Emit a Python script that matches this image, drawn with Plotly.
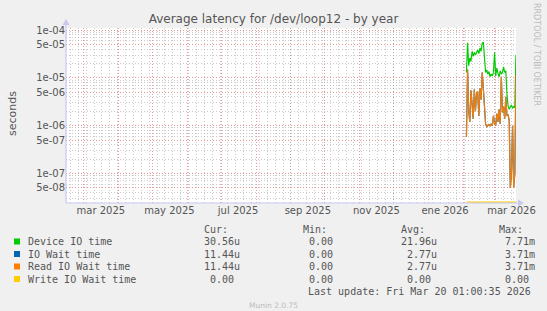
import numpy as np
import pandas as pd
import plotly.graph_objects as go

# ---------------- data ----------------
dates = pd.date_range("2026-02-04", periods=45, freq="D")

device_io_time = [
    1.3e-5, 5.4e-5, 1.8e-5, 2.6e-5, 2.2e-5, 3.6e-5, 2.8e-5, 3.4e-5, 3.0e-5, 3.3e-5,
    3.8e-5, 3.2e-5, 4.2e-5, 3.6e-5, 5.3e-5, 5.6e-5, 3.0e-5, 1.3e-5, 1.45e-5, 1.2e-5,
    1.35e-5, 1.05e-5, 1.2e-5, 1.1e-5, 1.3e-5, 3.4e-5, 1.1e-5, 1.6e-5, 1.25e-5, 1.05e-5,
    1.4e-5, 1.2e-5, 1.3e-5, 1.7e-5, 1.3e-5, 1.4e-5, 4.5e-6, 2.6e-6, 2.2e-6, 2.4e-6,
    2.7e-6, 2.3e-6, 2.5e-6, 2.4e-6, 3.056e-5,
]
io_wait_time = [
    5.8e-7, 1.5e-5, 2.0e-6, 1.2e-6, 5.5e-6, 3.0e-6, 1.4e-6, 5.8e-6, 2.0e-6, 4.8e-6,
    5.2e-6, 1.6e-6, 6.0e-6, 3.5e-6, 1.3e-5, 6.0e-6, 2.2e-6, 1.1e-6, 9.5e-7, 1.0e-6,
    1.05e-6, 1.0e-6, 1.1e-6, 1.0e-6, 1.6e-6, 1.1e-6, 1.0e-6, 1.8e-6, 1.2e-6, 2.2e-6,
    1.1e-6, 1.05e-5, 1.9e-6, 2.5e-6, 1.4e-6, 4.0e-6, 1.6e-6, 1.7e-6, 1.3e-6, 5.0e-8,
    1.0e-7, 1.0e-6, 5.0e-8, 1.0e-7, 1.144e-5,
]
read_io_wait_time = [
    5.8e-7, 1.5e-5, 2.0e-6, 1.2e-6, 5.5e-6, 3.0e-6, 1.4e-6, 5.8e-6, 2.0e-6, 4.8e-6,
    5.2e-6, 1.6e-6, 6.0e-6, 3.5e-6, 1.3e-5, 6.0e-6, 2.2e-6, 1.1e-6, 9.5e-7, 1.0e-6,
    1.05e-6, 1.0e-6, 1.1e-6, 1.0e-6, 1.6e-6, 1.1e-6, 1.0e-6, 1.8e-6, 1.2e-6, 2.2e-6,
    1.1e-6, 1.05e-5, 1.9e-6, 2.5e-6, 1.4e-6, 4.0e-6, 1.6e-6, 1.7e-6, 1.3e-6, 5.0e-8,
    1.0e-7, 1.0e-6, 5.0e-8, 1.0e-7, 1.144e-5,
]
write_io_wait_time = [0.0] * 45

y_tickvals = [1e-4, 5e-5, 1e-5, 5e-6, 1e-6, 5e-7, 1e-7, 5e-8]
y_ticktext = ["1e-04", "5e-05", "1e-05", "5e-06", "1e-06", "5e-07", "1e-07", "5e-08"]

x_label_dates = ["2025-03-16", "2025-05-16", "2025-07-16", "2025-09-16",
                 "2025-11-16", "2026-01-16", "2026-03-16"]
x_labels = ["mar 2025", "may 2025", "jul 2025", "sep 2025",
            "nov 2025", "ene 2026", "mar 2026"]

series_names = ["Device IO time", "IO Wait time", "Read IO Wait time", "Write IO Wait time"]
series_colors = ["#00CC00", "#0066B3", "#FF8000", "#FFCC00"]
cur_vals = ["30.56u", "11.44u", "11.44u", " 0.00"]
min_vals = [" 0.00", " 0.00", " 0.00", " 0.00"]
avg_vals = ["21.96u", " 2.77u", " 2.77u", " 0.00"]
max_vals = [" 7.71m", " 3.71m", " 3.71m", " 0.00"]

# ---------------- layout geometry ----------------
W, H = 547, 311
PL, PR, PT, PB = 66, 516, 28, 203
x_range = ["2025-02-13 01:00", "2026-03-20 01:00"]
y_lo, y_hi = -7.616, -3.958


def px(x):
    return (x - PL) / (PR - PL)


def py(y):
    return (PB - y) / (PB - PT)


floor_val = 10 ** (y_lo + 0.018)

fig = go.Figure()
series = [device_io_time, io_wait_time, read_io_wait_time, write_io_wait_time]
for name, vals, col in zip(series_names, series, series_colors):
    v = np.array(vals, dtype=float)
    v = np.where(v > 0, v, floor_val)
    fig.add_trace(go.Scatter(
        x=dates, y=v, mode="lines", name=name,
        line=dict(color=col, width=1.2),
        opacity=0.93 if name == "Read IO Wait time" else 1.0,
        showlegend=False, hoverinfo="skip",
    ))

fig.add_trace(go.Scatter(x=[dates[0]], y=[None], xaxis="x2", yaxis="y",
                         showlegend=False, hoverinfo="skip"))

month_starts = pd.date_range("2025-03-01", "2026-03-01", freq="MS")
minor_y = [m * 10.0 ** k for k in range(-8, -4) for m in (2, 3, 4, 6, 7, 8, 9)]

major_grid = "rgba(225,80,80,0.6)"
minor_grid = "rgba(160,160,160,0.55)"
dot = "1px,2px"
tick_font = dict(family="DejaVu Sans", size=10, color="#555555")

fig.update_layout(
    width=W, height=H,
    margin=dict(l=PL, r=W - PR, t=PT, b=H - PB, pad=0),
    paper_bgcolor="#F0F0F0", plot_bgcolor="#FFFFFF",
    title=dict(text="Average latency for /dev/loop12 - by year",
               x=0.5, xref="container", xanchor="center",
               y=1 - 19 / H, yref="container", yanchor="middle",
               font=dict(family="DejaVu Sans", size=12, color="#555555")),
    xaxis=dict(type="date", range=x_range, tickmode="array",
               tickvals=x_label_dates, ticktext=x_labels, ticks="",
               showgrid=False, zeroline=False, showline=False,
               tickfont=tick_font,
               minor=dict(tickmode="array", tickvals=list(month_starts),
                          showgrid=True, gridcolor=major_grid, griddash=dot,
                          gridwidth=1, ticks="")),
    xaxis2=dict(type="date", range=x_range, overlaying="x", side="bottom",
                anchor="y", showticklabels=False, ticks="", zeroline=False,
                showline=False, showgrid=True, gridcolor=minor_grid,
                griddash=dot, gridwidth=1, tick0="2025-02-17",
                dtick=7 * 86400000),
    yaxis=dict(type="log", range=[y_lo, y_hi], tickmode="array",
               tickvals=y_tickvals, ticktext=y_ticktext, ticks="",
               showgrid=True, gridcolor=major_grid, griddash=dot,
               zeroline=False, showline=False, tickfont=tick_font,
               minor=dict(tickmode="array", tickvals=minor_y, showgrid=True,
                          gridcolor=minor_grid, griddash=dot, ticks="")),
    showlegend=False,
)

# axis lines with arrows
axis_col = "#C8C8F0"
shapes = [
    dict(type="line", xref="paper", yref="paper", x0=0, x1=px(519), y0=0, y1=0,
         line=dict(color=axis_col, width=1.2)),
    dict(type="line", xref="paper", yref="paper", x0=0, x1=0, y0=0, y1=py(23),
         line=dict(color=axis_col, width=1.2)),
    dict(type="path", xref="paper", yref="paper",
         path=f"M {px(518)} {py(199.5)} L {px(524)} {py(203)} L {px(518)} {py(206.5)} Z",
         fillcolor=axis_col, line=dict(width=0)),
    dict(type="path", xref="paper", yref="paper",
         path=f"M {px(62.5)} {py(25)} L {px(66)} {py(19)} L {px(69.5)} {py(25)} Z",
         fillcolor=axis_col, line=dict(width=0)),
]

rows_y = [241.5, 254, 266.5, 279]
mono = dict(family="DejaVu Sans Mono", size=10, color="#555555")
ann = []


def nb(s):
    return s.replace(" ", "\u00a0")


for i, (name, col) in enumerate(zip(series_names, series_colors)):
    yy = rows_y[i]
    shapes.append(dict(type="rect", xref="paper", yref="paper",
                       x0=px(14), x1=px(20), y0=py(yy + 3), y1=py(yy - 3),
                       fillcolor=col, line=dict(width=0)))
    ann.append(dict(x=px(26), y=py(yy), text=nb(name), xanchor="left"))
    for colx, vals in zip((202, 301, 399, 497), (cur_vals, min_vals, avg_vals, max_vals)):
        ann.append(dict(x=px(colx), y=py(yy), text=nb(vals[i]), xanchor="left"))

for colx, hdr in zip((202, 301, 399, 497), ("Cur:", "Min:", "Avg:", "Max:")):
    ann.append(dict(x=px(colx), y=py(229.5), text=hdr, xanchor="left"))

ann.append(dict(x=px(533), y=py(291.5), text="Last update: Fri Mar 20 01:00:35 2026",
                xanchor="right"))

annotations = []
for a in ann:
    a.update(xref="paper", yref="paper", yanchor="middle", showarrow=False,
             font=mono)
    annotations.append(a)

annotations.append(dict(x=px(273), y=py(305), xref="paper", yref="paper",
                        text="Munin 2.0.75", showarrow=False, xanchor="center",
                        yanchor="middle",
                        font=dict(family="DejaVu Sans", size=7.5, color="#BBBBBB")))
annotations.append(dict(x=px(12), y=py(114), xref="paper", yref="paper",
                        text="seconds", showarrow=False, textangle=-90,
                        xanchor="center", yanchor="middle",
                        font=dict(family="DejaVu Sans", size=11, color="#555555")))
annotations.append(dict(x=px(537), y=py(54), xref="paper", yref="paper",
                        text="RRDTOOL / TOBI OETIKER", showarrow=False, textangle=90,
                        xanchor="center", yanchor="middle",
                        font=dict(family="DejaVu Sans", size=8, color="#BBBBBB")))

fig.update_layout(shapes=shapes, annotations=annotations)
fig.write_html("out.html")
